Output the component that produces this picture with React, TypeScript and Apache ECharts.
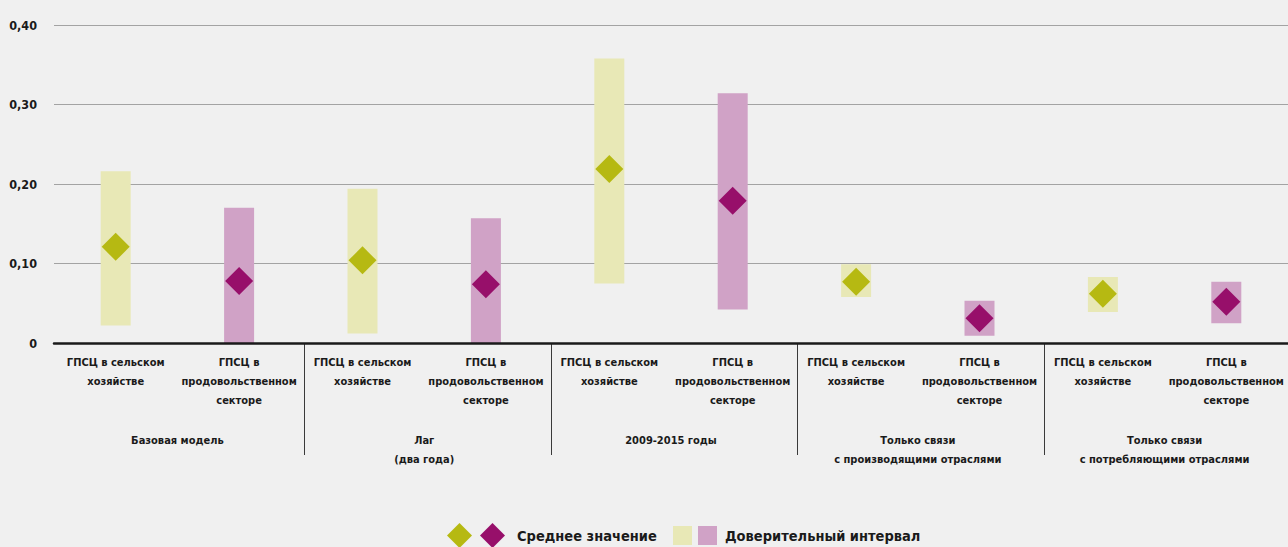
import React, { useEffect, useRef } from "react";
import * as echarts from "echarts";

const categories = [
  "ГПСЦ в сельском\nхозяйстве",
  "ГПСЦ в\nпродовольственном\nсекторе",
  "ГПСЦ в сельском\nхозяйстве",
  "ГПСЦ в\nпродовольственном\nсекторе",
  "ГПСЦ в сельском\nхозяйстве",
  "ГПСЦ в\nпродовольственном\nсекторе",
  "ГПСЦ в сельском\nхозяйстве",
  "ГПСЦ в\nпродовольственном\nсекторе",
  "ГПСЦ в сельском\nхозяйстве",
  "ГПСЦ в\nпродовольственном\nсекторе",
];

const groups = [
  "Базовая модель",
  "Лаг\n(два года)",
  "2009-2015 годы",
  "Только связи\nс производящими отраслями",
  "Только связи\nс потребляющими отраслями",
];

// Agriculture GVC (categories 0,2,4,6,8)
const agriMean = [0.121, 0.104, 0.219, 0.077, 0.062];
const agriLow = [0.022, 0.012, 0.075, 0.058, 0.039];
const agriHigh = [0.216, 0.194, 0.358, 0.099, 0.083];

// Food sector GVC (categories 1,3,5,7,9)
const foodMean = [0.078, 0.074, 0.179, 0.031, 0.052];
const foodLow = [0.0, 0.0, 0.042, 0.009, 0.025];
const foodHigh = [0.170, 0.157, 0.314, 0.053, 0.077];

const yTicks = [0, 0.1, 0.2, 0.3, 0.4];

const FONT = "'Liberation Sans Narrow', 'DejaVu Sans Condensed', sans-serif";
const OLIVE = "#b6b912";
const OLIVE_LIGHT = "#e8e8b6";
const MAGENTA = "#970f6a";
const PINK = "#d0a2c6";
const TEXT = "#1a1a1a";

function spread(vals: number[], offset: number): (number | string)[] {
  const out: (number | string)[] = categories.map(() => "-");
  vals.forEach((v, i) => {
    out[i * 2 + offset] = v;
  });
  return out;
}

export default function App() {
  const ref = useRef<HTMLDivElement>(null);

  useEffect(() => {
    if (!ref.current) return;
    const chart = echarts.init(ref.current, undefined, { renderer: "svg" });

    const agriRange = agriHigh.map((h, i) => +(h - agriLow[i]).toFixed(4));
    const foodRange = foodHigh.map((h, i) => +(h - foodLow[i]).toFixed(4));

    const option: any = {
      animation: false,
      backgroundColor: "#f0f0f0",
      textStyle: { fontFamily: FONT },
      grid: { left: 54, right: 0, top: 25, bottom: 204, containLabel: false },
      legend: [
        {
          left: 447,
          top: 523,
          padding: 0,
          itemWidth: 25,
          itemHeight: 25,
          itemGap: 8,
          selectedMode: false,
          data: [
            { name: "Среднее значение ", icon: "diamond" },
            { name: "Среднее значение", icon: "diamond" },
          ],
          formatter: (n: string) => (n.endsWith(" ") ? "" : n),
          textStyle: { fontFamily: FONT, fontWeight: "bold", fontSize: 14.5, color: TEXT, padding: [0, 0, 0, 7] },
        },
        {
          left: 673,
          top: 526,
          padding: 0,
          itemWidth: 19,
          itemHeight: 19,
          itemGap: 6,
          selectedMode: false,
          data: [
            { name: "Доверительный интервал ", icon: "rect" },
            { name: "Доверительный интервал", icon: "rect" },
          ],
          formatter: (n: string) => (n.endsWith(" ") ? "" : n),
          textStyle: { fontFamily: FONT, fontWeight: "bold", fontSize: 14.5, color: TEXT, padding: [0, 0, 0, 3] },
        },
      ],
      xAxis: [
        {
          type: "category",
          data: categories,
          axisLine: { show: true, lineStyle: { color: TEXT, width: 2.5 } },
          axisTick: { show: false },
          axisLabel: {
            interval: 0,
            margin: 10,
            fontFamily: FONT,
            fontWeight: "bold",
            fontSize: 11,
            lineHeight: 19,
            color: TEXT,
          },
          z: 10,
        },
        {
          type: "category",
          data: groups,
          position: "bottom",
          offset: 88,
          axisLine: { show: false },
          axisTick: { show: false },
          axisLabel: {
            interval: 0,
            margin: 0,
            fontFamily: FONT,
            fontWeight: "bold",
            fontSize: 11,
            lineHeight: 19,
            color: TEXT,
          },
        },
      ],
      yAxis: {
        type: "value",
        min: 0,
        max: 0.4,
        interval: 0.1,
        axisLine: { show: false },
        axisTick: { show: false },
        splitLine: { show: true, lineStyle: { color: "#a3a3a3", width: 1 } },
        axisLabel: {
          margin: 17,
          fontFamily: FONT,
          fontWeight: "bold",
          fontSize: 12.5,
          color: TEXT,
          formatter: (v: number) => {
            const t = yTicks.find((x) => Math.abs(x - v) < 1e-9);
            const val = t === undefined ? v : t;
            return val === 0 ? "0" : val.toFixed(2).replace(".", ",");
          },
        },
      },
      series: [
        {
          name: "agriBase",
          type: "bar",
          stack: "agri",
          barWidth: 30,
          barGap: "-100%",
          itemStyle: { color: "transparent" },
          data: spread(agriLow, 0),
          silent: true,
        },
        {
          name: "Доверительный интервал ",
          type: "bar",
          stack: "agri",
          barWidth: 30,
          barGap: "-100%",
          itemStyle: { color: OLIVE_LIGHT },
          data: spread(agriRange, 0),
        },
        {
          name: "foodBase",
          type: "bar",
          stack: "food",
          barWidth: 30,
          barGap: "-100%",
          itemStyle: { color: "transparent" },
          data: spread(foodLow, 1),
          silent: true,
        },
        {
          name: "Доверительный интервал",
          type: "bar",
          stack: "food",
          barWidth: 30,
          barGap: "-100%",
          itemStyle: { color: PINK },
          data: spread(foodRange, 1),
        },
        {
          name: "Среднее значение ",
          type: "scatter",
          symbol: "diamond",
          symbolSize: 28,
          itemStyle: { color: OLIVE, opacity: 1 },
          data: spread(agriMean, 0),
          z: 5,
        },
        {
          name: "Среднее значение",
          type: "scatter",
          symbol: "diamond",
          symbolSize: 28,
          itemStyle: { color: MAGENTA, opacity: 1 },
          data: spread(foodMean, 1),
          z: 5,
        },
      ],
    };

    chart.setOption(option);

    // group separators, positioned through the chart's own scale
    const y0 = chart.convertToPixel({ yAxisIndex: 0 }, 0) as number;
    const lines: any[] = [];
    for (let g = 1; g < groups.length; g++) {
      const a = chart.convertToPixel({ xAxisIndex: 0 }, g * 2 - 1) as number;
      const b = chart.convertToPixel({ xAxisIndex: 0 }, g * 2) as number;
      const x = Math.round((a + b) / 2 + 3) + 0.5;
      lines.push({
        type: "line",
        shape: { x1: x, y1: y0, x2: x, y2: y0 + 112 },
        style: { stroke: "#3a3a3a", lineWidth: 1 },
        silent: true,
      });
    }
    chart.setOption({ graphic: lines });

    return () => chart.dispose();
  }, []);

  return (
    <div
      ref={ref}
      style={{ position: "absolute", left: 0, top: 0, width: 1288, height: 547 }}
    />
  );
}
